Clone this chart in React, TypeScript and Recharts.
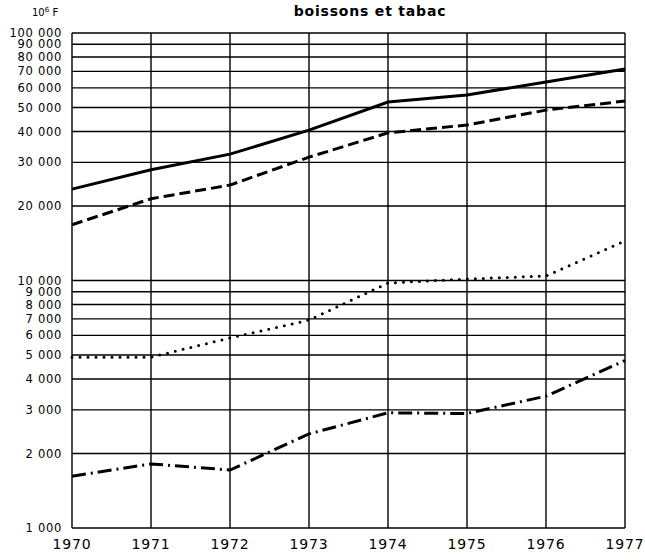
import React from 'react';
import { LineChart, Line, XAxis, YAxis, CartesianGrid } from 'recharts';

const YEARS = [1970, 1971, 1972, 1973, 1974, 1975, 1976, 1977];
const SERIES_SOLID = [23400, 28000, 32400, 40500, 52600, 56200, 63400, 71500];
const SERIES_DASHED = [16800, 21400, 24300, 31500, 39500, 42500, 48800, 53100];
const SERIES_DOTTED = [4900, 4900, 5860, 6920, 9770, 10140, 10430, 14450];
const SERIES_DASHDOT = [1620, 1815, 1715, 2400, 2920, 2900, 3410, 4750];
const Y_TICKS = [
  1000, 2000, 3000, 4000, 5000, 6000, 7000, 8000, 9000, 10000,
  20000, 30000, 40000, 50000, 60000, 70000, 80000, 90000, 100000,
];

const data = YEARS.map((year, i) => ({
  year,
  solid: SERIES_SOLID[i],
  dashed: SERIES_DASHED[i],
  dotted: SERIES_DOTTED[i],
  dashdot: SERIES_DASHDOT[i],
}));

const fmt = (v: number) => String(v).replace(/\B(?=(\d{3})+(?!\d))/g, ' ');

const font = '"DejaVu Sans", Arial, sans-serif';

const App: React.FC = () => {
  return (
    <div style={{ position: 'absolute', left: 0, top: 0, width: 645, height: 560, background: '#fff', fontFamily: font }}>
      <div style={{ position: 'absolute', left: 32, top: 6, fontSize: 10, color: '#000' }}>
        10<sup style={{ fontSize: 7 }}>6</sup> F
      </div>
      <div style={{ position: 'absolute', left: 0, width: 740, top: 3, textAlign: 'center', fontSize: 14, fontWeight: 'bold', color: '#000', letterSpacing: 0.8 }}>
        boissons et tabac
      </div>
      <LineChart width={645} height={560} data={data} margin={{ top: 33, right: 20, bottom: 0, left: 0 }}>
        <CartesianGrid stroke="#000" strokeWidth={1.4} verticalValues={YEARS} horizontalValues={Y_TICKS} />
        <XAxis
          dataKey="year"
          type="number"
          domain={[1970, 1977]}
          ticks={YEARS}
          interval={0}
          height={32}
          tickLine={false}
          axisLine={false}
          tickSize={0}
          tickMargin={11}
          tick={{ fill: '#000', fontSize: 14, fontFamily: font, letterSpacing: 0.8 }}
        />
        <YAxis
          scale="log"
          domain={[1000, 100000]}
          ticks={Y_TICKS}
          interval={0}
          width={72}
          tickLine={false}
          axisLine={false}
          tickSize={0}
          tickMargin={10}
          tickFormatter={fmt}
          tick={{ fill: '#000', fontSize: 11.5, fontFamily: font, letterSpacing: 0.7 }}
          allowDataOverflow
        />
        <Line dataKey="solid" type="linear" stroke="#000" strokeWidth={3} dot={false} isAnimationActive={false} />
        <Line dataKey="dashed" type="linear" stroke="#000" strokeWidth={3} strokeDasharray="11 5" dot={false} isAnimationActive={false} />
        <Line dataKey="dotted" type="linear" stroke="#000" strokeWidth={3} strokeDasharray="0 8" strokeLinecap="round" dot={false} isAnimationActive={false} />
        <Line dataKey="dashdot" type="linear" stroke="#000" strokeWidth={3} strokeDasharray="14 5 2 5" dot={false} isAnimationActive={false} />
      </LineChart>
    </div>
  );
};

export default App;
